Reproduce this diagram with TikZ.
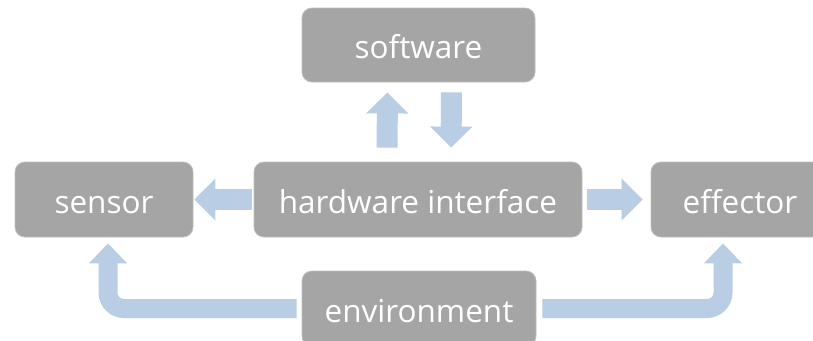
\documentclass[tikz,border=0pt]{standalone}
\usepackage{fontspec}
\setmainfont{Open Sans}
\usetikzlibrary{arrows.meta}

\definecolor{boxgray}{HTML}{A5A5A5}
\definecolor{boxline}{HTML}{BDBDBD}
\definecolor{flowblue}{HTML}{B9CDE5}

\tikzset{
  box/.style={fill=boxgray, draw=boxline, line width=0.8pt, rounded corners=10pt,
    text=white, font=\fontsize{31.5}{33}\selectfont, inner sep=0pt,
    text height=30pt, text depth=3pt},
  flow/.style={draw=flowblue, line width=21pt,
    -{Triangle[width=41pt,length=21pt]}},
  loopflow/.style={draw=flowblue, line width=19pt, rounded corners=16pt,
    -{Triangle[width=37pt,length=20pt]}}
}

\begin{document}
\begin{tikzpicture}[x=1pt,y=-1pt]
			%%%%% START %%%%%
			\useasboundingbox (0,0) rectangle (813,340);
			\clip (0,0) rectangle (813,340);
			
			\node[box, minimum width=233pt, minimum height=74pt] (soft) at (418.5,45) {software};
			\node[box, minimum width=328pt, minimum height=75pt] (hw) at (418,199.5) {hardware interface};
			\node[box, minimum width=178pt, minimum height=75pt] (sensor) at (104,199.5) {sensor};
			\node[box, minimum width=178pt, minimum height=75pt] (eff) at (740,199.5) {effector};
			\node[box, minimum width=234pt, minimum height=75pt] (env) at (419,308.5) {environment};
			
			% hardware <-> software
			\draw[flow, shorten <=14pt, shorten >=10pt] ([xshift=-31pt]hw.north) -- ([xshift=-31pt]soft.south);
			\draw[flow, shorten <=10pt, shorten >=14pt] ([xshift=33pt]soft.south) -- ([xshift=33pt]hw.north);
			
			% hardware -> sensor, effector
			\draw[flow, shorten <=2pt, shorten >=1pt] (hw.west) -- (sensor.east);
			\draw[flow, shorten <=5pt, shorten >=8pt] (hw.east) -- (eff.west);
			
			% environment -> sensor, effector
			\coordinate (sin) at ([xshift=4pt]sensor.south);
			\coordinate (ein) at ([xshift=-17pt]eff.south);
			\draw[loopflow, shorten <=5pt, shorten >=6pt] (env.west) -- (sin |- env.west) -- (sin);
			\draw[loopflow, shorten <=6pt, shorten >=6pt] (env.east) -- (ein |- env.east) -- (ein);
			
			%%%%% END %%%%%
		\end{tikzpicture}
\end{document}
